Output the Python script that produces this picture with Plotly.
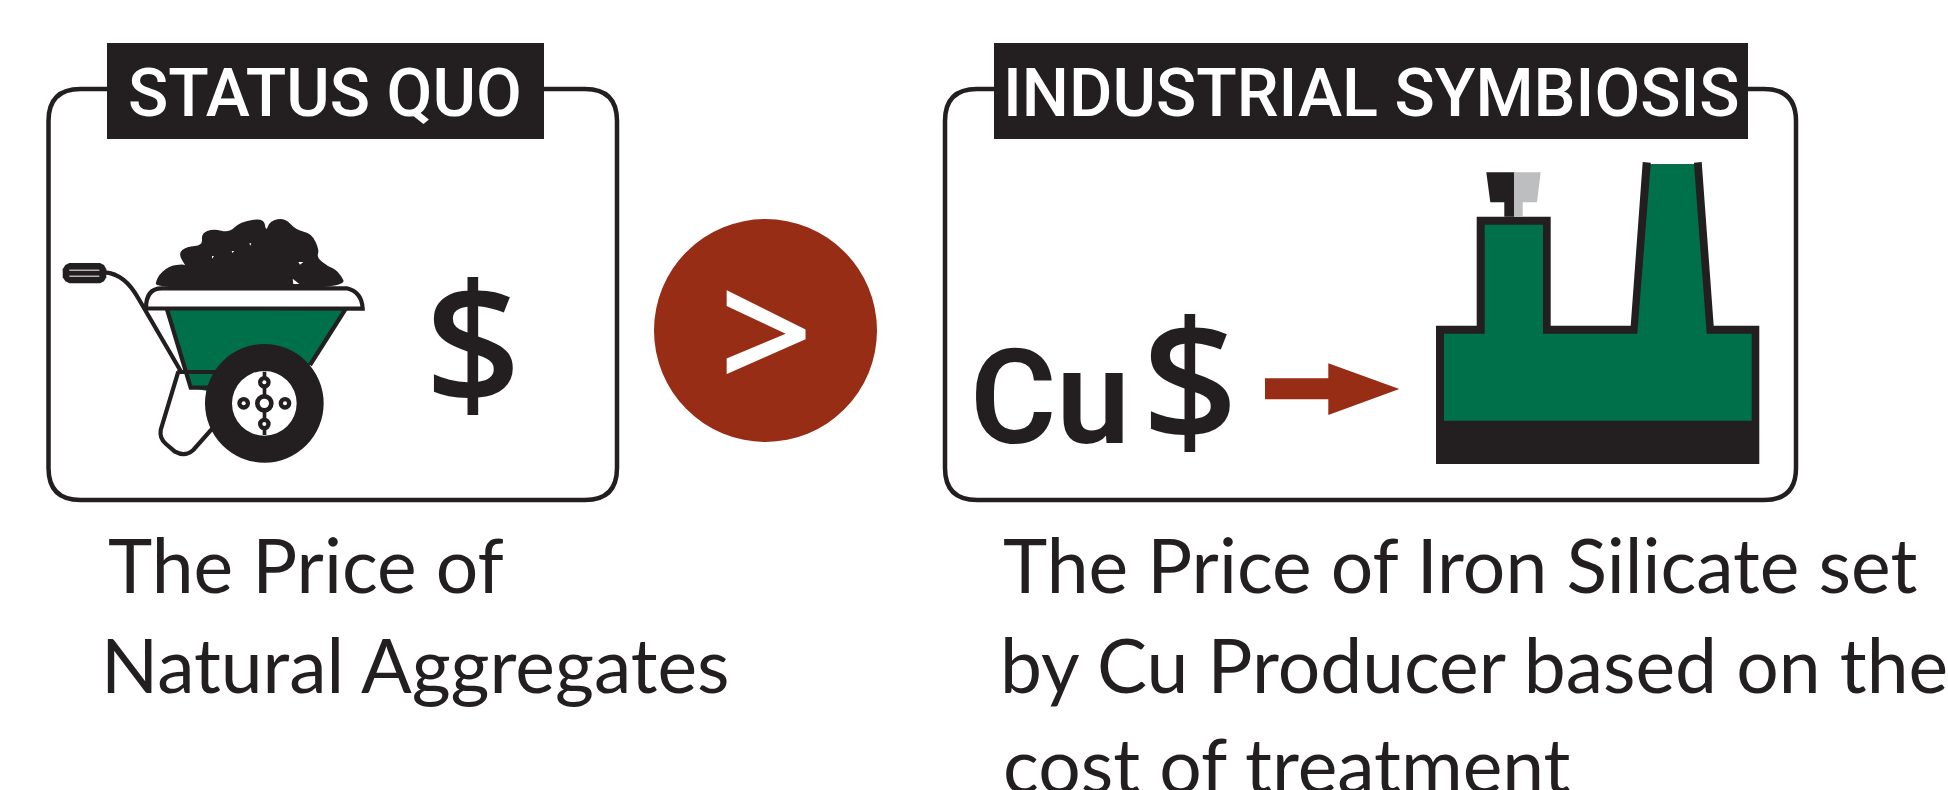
import plotly.graph_objects as go

# ---- text content ----
HEADERS = ["STATUS QUO", "INDUSTRIAL SYMBIOSIS"]
BODY_LEFT = ["The Price of", "Natural Aggregates"]
BODY_RIGHT = ["The Price of Iron Silicate set", "by Cu Producer based on the", "cost of treatment"]
SYMBOLS = ["$", "Cu", "$", ">"]

# ---- colours ----
DARK = "#231f20"
GREEN = "#00704a"
RUST = "#982d16"
GREY = "#bcbec0"
WHITE = "#ffffff"

BODY_FONT = "Lato"
HEAD_FONT = "Open Sans"
CAPS_FONT = "Roboto"

shapes = []


def poly(pts, fill, off=(0, 0), line=None, lw=0, close=True):
    d = "M" + " L".join(f"{off[0]+x/3:.1f},{off[1]+y/3:.1f}" for x, y in pts) + (" Z" if close else "")
    shapes.append(dict(type="path", path=d, fillcolor=fill if close else "rgba(0,0,0,0)",
                       line=dict(color=line or fill, width=lw)))


def smooth(pts, fill, off):
    P = [(off[0]+x/3, off[1]+y/3) for x, y in pts]
    n = len(P)
    mid = lambda a, b: ((a[0]+b[0])/2, (a[1]+b[1])/2)
    s = mid(P[-1], P[0])
    d = f"M{s[0]:.1f},{s[1]:.1f}"
    for i in range(n):
        m = mid(P[i], P[(i+1) % n])
        d += f" Q{P[i][0]:.1f},{P[i][1]:.1f} {m[0]:.1f},{m[1]:.1f}"
    shapes.append(dict(type="path", path=d+" Z", fillcolor=fill, line=dict(color=fill, width=0)))


def raw(d, off, fill=None, line=DARK, lw=4.2):
    """path given as tokens in zoom coordinates"""
    out = []
    for t in d.split():
        if "," in t:
            a, b = t.split(",")
            cmd = ""
            if a[0].isalpha():
                cmd, a = a[0], a[1:]
            out.append(f"{cmd}{off[0]+float(a)/3:.1f},{off[1]+float(b)/3:.1f}")
        else:
            out.append(t)
    shapes.append(dict(type="path", path=" ".join(out), fillcolor=fill or "rgba(0,0,0,0)",
                       line=dict(color=line, width=lw)))


def circ(c, r, fill, off):
    cx, cy = off[0]+c[0]/3, off[1]+c[1]/3
    r /= 3
    shapes.append(dict(type="circle", x0=cx-r, x1=cx+r, y0=cy-r, y1=cy+r,
                       fillcolor=fill, line=dict(color=fill, width=0)))


def rbox(x0, y0, x1, y1, r):
    d = (f"M{x0+r},{y0} L{x1-r},{y0} Q{x1},{y0} {x1},{y0+r} L{x1},{y1-r} Q{x1},{y1} {x1-r},{y1} "
         f"L{x0+r},{y1} Q{x0},{y1} {x0},{y1-r} L{x0},{y0+r} Q{x0},{y0} {x0+r},{y0} Z")
    shapes.append(dict(type="path", path=d, fillcolor=WHITE, line=dict(color=DARK, width=4.5)))


def rect(x0, y0, x1, y1, fill):
    shapes.append(dict(type="rect", x0=x0, x1=x1, y0=y0, y1=y1, fillcolor=fill,
                       line=dict(color=fill, width=0)))


# ---- frames and header bars ----
rbox(48.5, 89, 617, 500, 32)
rbox(945, 89, 1796, 500, 32)
rect(107, 43, 544, 139, DARK)
rect(994, 43, 1748, 139, DARK)

# ---- comparison disc ----
shapes.append(dict(type="circle", x0=654, x1=877, y0=219, y1=442, fillcolor=RUST, line=dict(color=RUST, width=0)))

# ---- wheelbarrow (zoom crop coords, /3 + origin) ----
W = (40, 200)
# rock pile
smooth([(345, 268), (350, 232), (385, 198), (432, 192), (438, 200), (414, 160), (440, 140), (488, 136),
        (484, 100), (520, 86), (568, 98), (600, 66), (672, 54), (678, 96), (690, 62), (735, 54), (768, 90),
        (815, 100), (838, 150), (830, 172), (862, 198), (895, 212), (925, 268)], DARK, W)
for p in ([(628, 130), (634, 130), (631, 137)], [(575, 153), (583, 153), (577, 159)], [(516, 168), (522, 168), (516, 176)],
          [(775, 186), (790, 186), (780, 194)], [(758, 236), (778, 252), (760, 252)]):
    poly(p, WHITE, W)
# handle
raw("M195,217 Q255,222 295,295 L425,518", W)
# grip
shapes.append(dict(type="path", fillcolor=DARK, line=dict(color=DARK, width=0),
                   path="M" + " L".join(f"{W[0]+x/3:.1f},{W[1]+y/3:.1f}" for x, y in
                   [(88, 189), (180, 189), (192, 195), (199, 208), (199, 232), (192, 244), (180, 250),
                    (88, 250), (76, 244), (68, 232), (68, 208), (76, 195)]) + " Z"))
rect(W[0]+88/3, W[1]+209/3, W[0]+178/3, W[1]+212/3, WHITE)
rect(W[0]+88/3, W[1]+227/3, W[0]+178/3, W[1]+230/3, WHITE)
# leg
raw("M415,515 L362,690 Q358,715 378,732 L405,755 Q435,772 460,750 L520,682", W, fill=WHITE)
# tub
poly([(382, 325), (918, 325), (810, 495), (640, 600), (452, 563)], GREEN, W)
raw("M380,325 L452,563 L520,563", W)
raw("M918,325 L810,495", W)
raw("M412,516 L530,516", W)
# rim
raw("M318,325 Q318,265 365,265 L920,265 Q965,275 968,326 Z", W, fill=WHITE)
# wheel
circ((673, 610), 178, DARK, W)
circ((673, 610), 97, WHITE, W)
rect(W[0]+668/3, W[1]+515/3, W[0]+679/3, W[1]+705/3, DARK)
circ((673, 610), 28, DARK, W)
circ((673, 610), 14, WHITE, W)
for c in ((611, 610), (735, 610), (673, 547), (673, 672)):
    circ(c, 19, DARK, W)
    circ(c, 6, WHITE, W)

# ---- arrow ----
A = (940, 30)
poly([(975, 1045), (1165, 1045), (1165, 1000), (1378, 1077), (1165, 1155), (1165, 1108), (975, 1108)], RUST, A)

# ---- factory ----
F = (1400, 140)
poly([(108, 972), (108, 557), (230, 557), (230, 230), (452, 230), (452, 557), (692, 557), (728, 66), (752, 68),
      (752, 73), (882, 73), (882, 68), (905, 66), (941, 557), (1078, 557), (1078, 972)], DARK, F)
poly([(132, 842), (132, 581), (254, 581), (254, 254), (429, 254), (429, 581), (712, 581), (752, 73), (882, 73),
      (920, 581), (1055, 581), (1055, 842)], GREEN, F)
poly([(259, 97), (343, 97), (343, 230), (313, 230), (313, 187), (271, 187)], DARK, F)
poly([(343, 97), (422, 97), (411, 187), (368, 187), (368, 230), (343, 230)], GREY, F)

# ---- text ----
ann = []


def label(text, x, y, size, color=DARK, font=BODY_FONT, xanchor="left", weight=400):
    ann.append(dict(text=text, x=x, y=y, xref="x", yref="y", showarrow=False, xanchor=xanchor, yanchor="middle",
                    font=dict(family=font, size=size, color=color, weight=weight), align="left"))


label(HEADERS[0], 325, 93, 66.5, WHITE, CAPS_FONT, "center", 500)
label(HEADERS[1], 1371, 93, 66.5, WHITE, CAPS_FONT, "center", 500)
for t, y, x in zip(BODY_LEFT, (564, 664), (106, 99)):
    label(t, x, y, 75)
for t, y, x in zip(BODY_RIGHT, (564, 664, 764), (1001, 998, 1001)):
    label(t, x, y, 75)
label(SYMBOLS[0], 473, 339, 168, DARK, HEAD_FONT, "center", 600)
label(SYMBOLS[1], 1050, 398, 132, DARK, CAPS_FONT, "center", 600)
label(SYMBOLS[2], 1190, 376, 168, DARK, HEAD_FONT, "center", 600)
label(SYMBOLS[3], 766, 328, 165, WHITE, HEAD_FONT, "center", 600)

fig = go.Figure()
fig.update_layout(
    width=1948, height=790, margin=dict(l=0, r=0, t=0, b=0),
    paper_bgcolor=WHITE, plot_bgcolor=WHITE, showlegend=False,
    xaxis=dict(range=[0, 1948], visible=False, fixedrange=True),
    yaxis=dict(range=[790, 0], visible=False, fixedrange=True),
    shapes=shapes, annotations=ann,
)
fig.write_html("out.html", config={"displayModeBar": False},
               post_script="document.body.style.margin='0';document.body.style.overflow='hidden';")
